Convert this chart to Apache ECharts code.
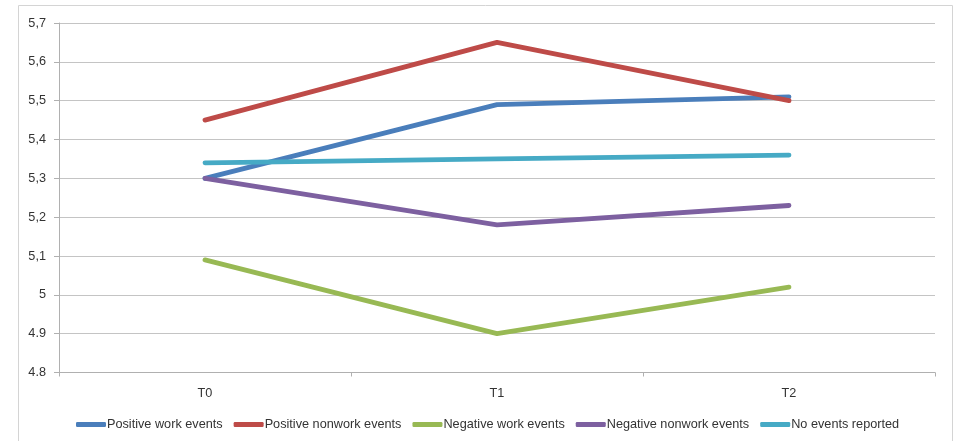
<!DOCTYPE html>
<html>
<head>
<meta charset="utf-8">
<script src="https://cdn.jsdelivr.net/npm/echarts@6/dist/echarts.min.js"></script>
<style>
html,body{margin:0;padding:0;background:#fff;}
#chart{width:962px;height:441px;}
</style>
</head>
<body>
<div id="chart"></div>
<script>
const categories = ['T0', 'T1', 'T2'];
const seriesNames = ['Positive work events', 'Positive nonwork events', 'Negative work events', 'Negative nonwork events', 'No events reported'];
const positiveWork = [5.30, 5.49, 5.51];
const positiveNonwork = [5.45, 5.65, 5.50];
const negativeWork = [5.09, 4.90, 5.02];
const negativeNonwork = [5.30, 5.18, 5.23];
const noEvents = [5.34, 5.35, 5.36];
const yTickLabels = ['4.8', '4.9', '5', '5,1', '5,2', '5,3', '5,4', '5,5', '5,6', '5,7'];

const colors = ['#4a7ebb', '#be4b48', '#98b954', '#7d60a0', '#46aac5'];
const values = [positiveWork, positiveNonwork, negativeWork, negativeNonwork, noEvents];

const chart = echarts.init(document.getElementById('chart'));
const font = 'Liberation Sans, Arial, sans-serif';
chart.setOption({
  animation: false,
  color: colors,
  textStyle: { fontFamily: font },
  graphic: [{
    type: 'rect',
    shape: { x: 18.5, y: 5.5, width: 934, height: 460 },
    style: { fill: 'none', stroke: '#d4d4d4', lineWidth: 1 },
    silent: true
  }],
  grid: { left: 59, right: 27, top: 23, bottom: 68.5 },
  legend: {
    left: 71,
    top: 413,
    icon: 'roundRect',
    itemWidth: 30,
    itemHeight: 5,
    itemGap: 11,
    textStyle: { fontSize: 12.7, color: '#333', fontFamily: font, padding: [0, 0, 0, -4] },
    data: seriesNames
  },
  xAxis: {
    type: 'category',
    data: categories,
    boundaryGap: true,
    axisLine: { lineStyle: { color: '#b0b0b0', width: 1 } },
    axisTick: { show: true, inside: false, length: 4, interval: 0, lineStyle: { color: '#b0b0b0' } },
    axisLabel: { margin: 14, fontSize: 12.7, color: '#333', fontFamily: font }
  },
  yAxis: {
    type: 'value',
    min: 4.8,
    max: 5.7,
    interval: 0.1,
    axisLine: { show: true, lineStyle: { color: '#b0b0b0', width: 1 } },
    axisTick: { show: true, length: 5, lineStyle: { color: '#b0b0b0' } },
    splitLine: { lineStyle: { color: '#c4c4c4', width: 1 } },
    axisLabel: {
      margin: 13,
      fontSize: 12.7,
      color: '#333',
      fontFamily: font,
      formatter: function (v) {
        const i = Math.round((v - 4.8) * 10);
        return yTickLabels[i] !== undefined ? yTickLabels[i] : '';
      }
    }
  },
  series: seriesNames.map((name, i) => ({
    name: name,
    type: 'line',
    data: values[i],
    showSymbol: false,
    symbol: 'none',
    lineStyle: { width: 4.8, color: colors[i], cap: 'round', join: 'round' },
    itemStyle: { color: colors[i] }
  }))
});
</script>
</body>
</html>
